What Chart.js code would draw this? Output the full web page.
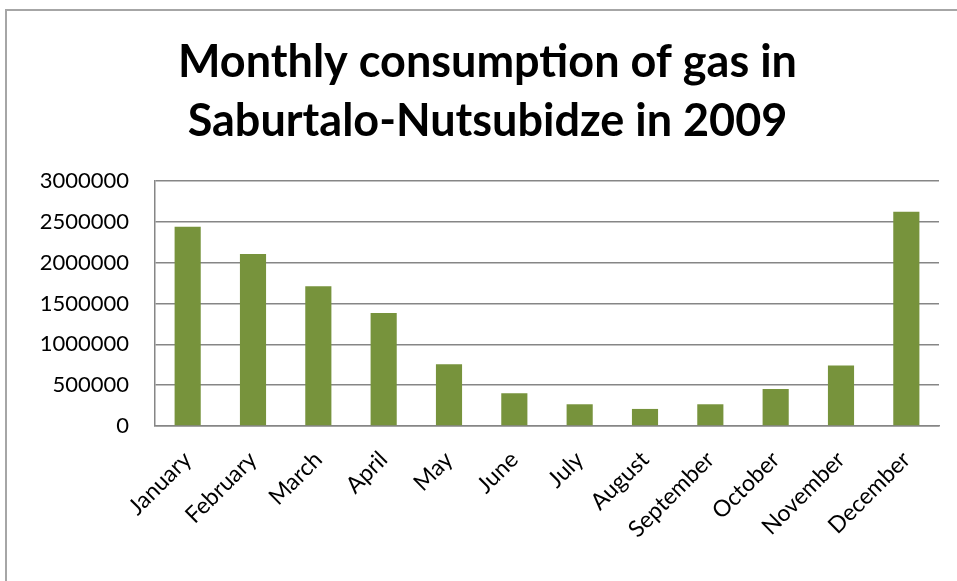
<!DOCTYPE html>
<html>
<head>
<meta charset="utf-8">
<script src="https://cdn.jsdelivr.net/npm/chart.js@4/dist/chart.umd.min.js"></script>
<style>
  html, body { margin: 0; padding: 0; background: #ffffff; overflow: hidden; }
  #frame { position: absolute; left: 5px; top: 9px; width: 1000px; height: 1000px; border: 2px solid #a6a6a6; box-sizing: border-box; }
  #wrap { position: absolute; left: 0; top: 0; width: 957px; height: 581px; }
</style>
</head>
<body>
<div id="frame"></div>
<div id="wrap"><canvas id="chart" width="957" height="581"></canvas></div>
<script>
const titleLines = ['Monthly consumption of gas in', 'Saburtalo-Nutsubidze in 2009'];
const months = ['January', 'February', 'March', 'April', 'May', 'June', 'July', 'August', 'September', 'October', 'November', 'December'];
const gasConsumption = [2438000, 2107000, 1710000, 1383000, 757000, 401000, 266000, 209000, 266000, 454000, 741000, 2622000];
const yMin = 0;
const yMax = 3000000;
const yStep = 500000;

const FONT = 'Lato, "Open Sans", "Liberation Sans", sans-serif';

new Chart(document.getElementById('chart'), {
  type: 'bar',
  data: {
    labels: months,
    datasets: [{
      data: gasConsumption,
      backgroundColor: '#77933C',
      borderWidth: 0,
      barPercentage: 0.4,
      categoryPercentage: 1.0
    }]
  },
  options: {
    responsive: false,
    animation: false,
    devicePixelRatio: 1,
    layout: { padding: { left: 36, right: 18, top: 0, bottom: 0 } },
    plugins: {
      legend: { display: false },
      tooltip: { enabled: false },
      title: {
        display: true,
        text: titleLines,
        color: '#000000',
        font: { family: FONT, size: 45, weight: 'bold', lineHeight: 1.333 },
        padding: { top: 32, bottom: 29 }
      }
    },
    scales: {
      x: {
        grid: { display: false, drawTicks: false },
        border: { display: true, color: '#868686', width: 1.5 },
        ticks: {
          color: '#000000',
          font: { family: FONT, size: 23 },
          maxRotation: 45,
          minRotation: 45,
          autoSkip: false,
          padding: 20
        },
        afterFit: function (scale) { scale.height = 155; }
      },
      y: {
        min: yMin,
        max: yMax,
        grid: { color: '#868686', lineWidth: 1.5, drawTicks: false },
        border: { display: true, color: '#868686', width: 1.5 },
        ticks: {
          stepSize: yStep,
          color: '#000000',
          font: { family: FONT, size: 22 },
          padding: 26,
          callback: function (v) { return String(v); }
        },
        afterFit: function (scale) { scale.width = 119; }
      }
    }
  }
});
</script>
</body>
</html>
